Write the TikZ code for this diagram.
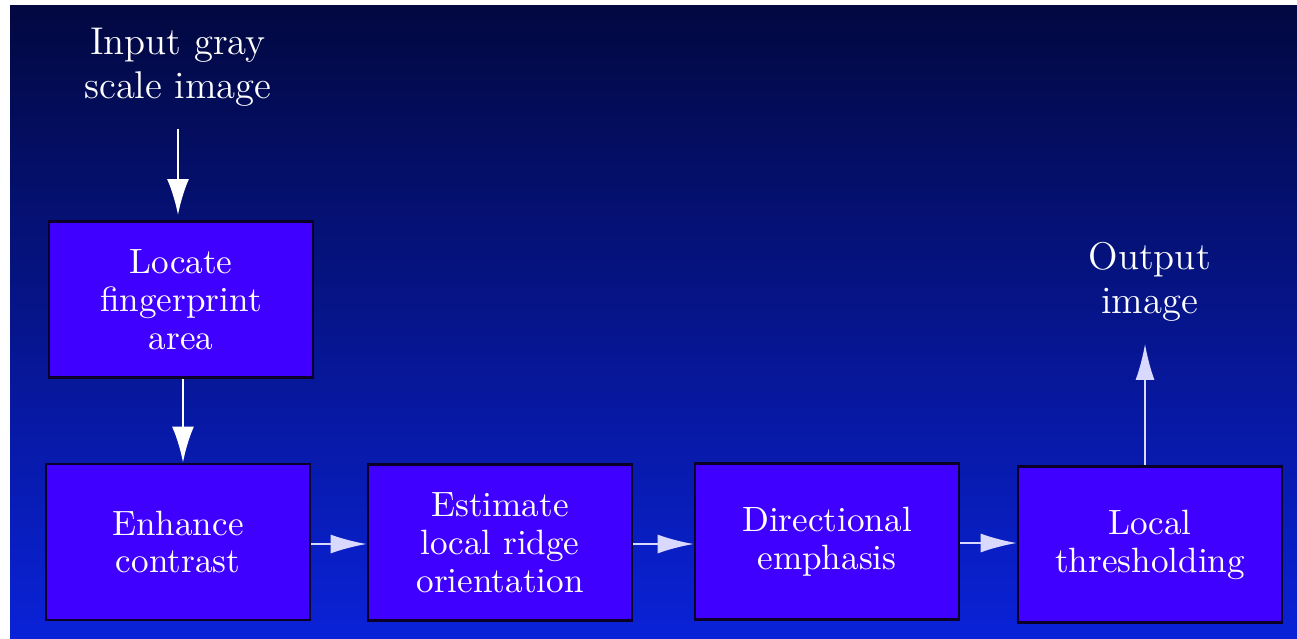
\documentclass[tikz,border=0pt]{standalone}
\usepackage{xcolor}
\usepackage{tikz}
\usetikzlibrary{arrows.meta}

\definecolor{bgtop}{RGB}{2,8,64}
\definecolor{bgmid}{RGB}{4,18,128}
\definecolor{bgbot}{RGB}{10,34,216}
\definecolor{boxblue}{RGB}{64,0,255}
\definecolor{boxline}{RGB}{10,0,40}

\tikzset{
  stagebox/.style={draw=boxline, line width=0.8pt, fill=boxblue,
    text=white, align=center, minimum width=2.64cm, minimum height=1.56cm,
    inner sep=0pt, font=\fontsize{10}{10.8}\selectfont},
  endlabel/.style={text=white, align=center,
    font=\fontsize{11}{12.5}\selectfont},
  flowv/.style={draw=white, line width=0.8pt,
    -{Latex[length=3.6mm,width=2.2mm]}},
  flowh/.style={draw=white!85!blue, line width=0.5pt,
    -{Latex[length=3.6mm,width=1.9mm]}}
}

\begin{document}
\begin{tikzpicture}

\useasboundingbox (0,0) rectangle (12.97,-6.38);
\fill[white] (0,0) rectangle (12.97,-6.38);
\shade[top color=bgtop, middle color=bgmid, bottom color=bgbot]
  (0.10,-0.06) rectangle (12.97,-6.38);

\node[endlabel] (inp) at (1.78,-0.67)
{Input gray\\scale image};
\node[endlabel] (outp) at (1.1497e1,-2.82)
{Output\\image};

\node[stagebox] (loc) at (1.81,-2.995)
{Locate\\fingerprint\\area};
\node[stagebox] (enh) at (1.78,-5.42)
{Enhance\\contrast};
\node[stagebox] (est) at (5.00,-5.425)
{Estimate\\local ridge\\orientation};
\node[stagebox] (dir) at (8.27,-5.415)
{Directional\\emphasis};
\node[stagebox] (thr) at (11.50,-5.445)
{Local\\thresholding};

\draw[flowv, shorten <=1mm, shorten >=0.5mm] (inp.south) -- (inp.south |- loc.north);
\draw[flowv] (loc.south -| 1.83,0) -- (enh.north -| 1.83,0);
\draw[flowh] (enh.east |- 0,-5.44) -- (est.west |- 0,-5.44);
\draw[flowh] (est.east |- 0,-5.44) -- (dir.west |- 0,-5.44);
\draw[flowh] (dir.east |- 0,-5.43) -- (thr.west |- 0,-5.43);
\draw[flowh, shorten >=1mm] (thr.north -| 11.45,0) -- (outp.south -| 11.45,0);
\end{tikzpicture}
\end{document}
